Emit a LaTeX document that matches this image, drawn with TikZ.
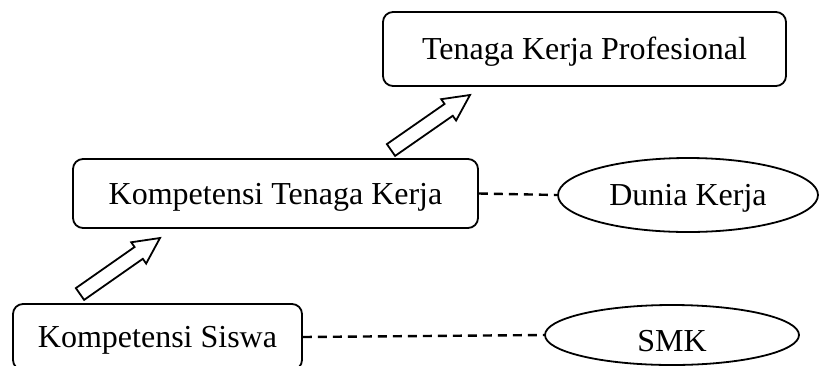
\documentclass[tikz,border=0pt]{standalone}
\usepackage{fontspec}
\setmainfont{Liberation Serif}
\usetikzlibrary{shapes.geometric,calc}
\newcommand\blockarrow[2]{%
  \coordinate (ba-h) at ($(#2)!26pt!(#1)$);
  \draw[barrow] ($(#1)!7.2pt!90:(#2)$) -- ($(ba-h)!7.2pt!90:(#2)$) -- ($(ba-h)!13pt!90:(#2)$)
    -- (#2) -- ($(ba-h)!13pt!-90:(#2)$) -- ($(ba-h)!7.2pt!-90:(#2)$) -- ($(#1)!7.2pt!-90:(#2)$) -- cycle;
}
\begin{document}
\begin{tikzpicture}[x=1pt,y=-1pt,
 txt/.style={inner sep=0pt, font=\fontsize{32}{38}\selectfont, text height=21pt, text depth=0pt},
 box/.style={txt, draw, line width=1.8pt, rounded corners=10pt},
 oval/.style={txt, draw, ellipse, line width=1.8pt},
 dashline/.style={line width=2.4pt, dash pattern=on 9pt off 6pt},
 barrow/.style={line width=1.8pt, fill=white, line join=miter}]
\useasboundingbox (0,0) rectangle (819,365);
\clip (0,0) rectangle (819,365);
\node[box, minimum width=403pt, minimum height=74pt] (top) at (584.5,49) {Tenaga Kerja Profesional};
\node[box, minimum width=405pt, minimum height=69pt] (mid) at (275.5,193.5) {Kompetensi Tenaga Kerja};
\node[box, minimum width=289pt, minimum height=66pt] (bot) at (157.5,337) {Kompetensi Siswa};
\node[oval, minimum width=260pt, minimum height=74pt] (dunia) at (688,195) {Dunia Kerja};
\node[oval, minimum width=254pt, minimum height=60pt, text height=33pt] (smk) at (672,335) {SMK};
\draw[dashline] (mid.east) -- (dunia.west);
\draw[dashline] (bot.east) -- (smk.west);
\coordinate (a1s) at (80,294);
\coordinate (a1e) at (160,238);
\coordinate (a2s) at (391,150);
\coordinate (a2e) at (470,95);
\blockarrow{a1s}{a1e}
\blockarrow{a2s}{a2e}
\end{tikzpicture}
\end{document}
